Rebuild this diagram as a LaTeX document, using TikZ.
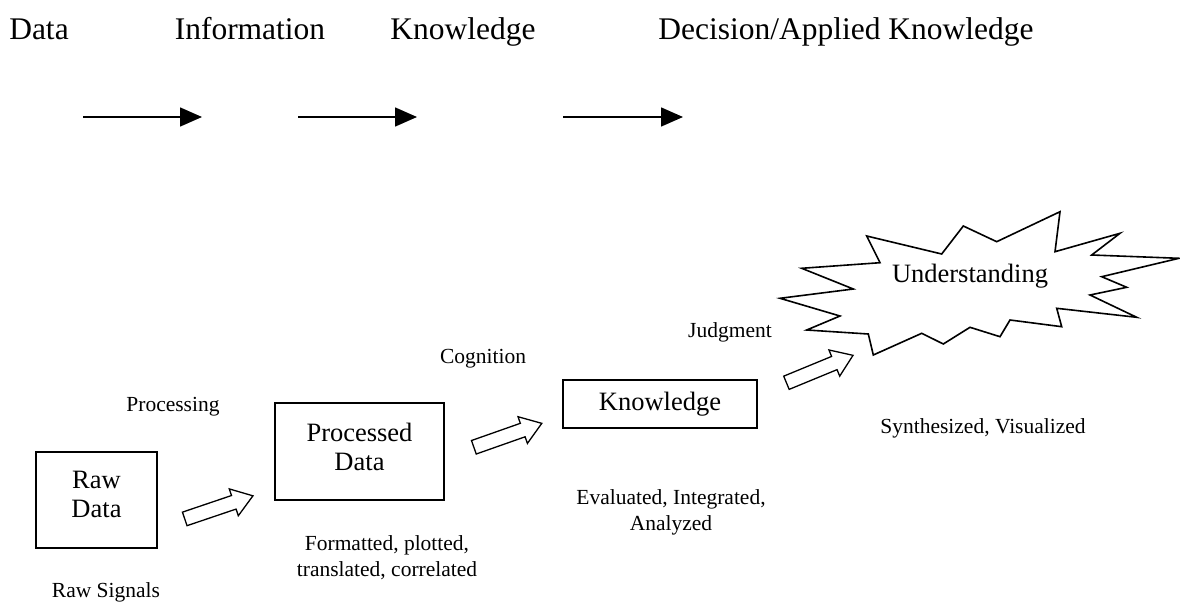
\documentclass[tikz,border=0pt]{standalone}
\usepackage{fontspec}
\setmainfont{Liberation Serif}
\usetikzlibrary{arrows.meta,shapes.arrows}
\begin{document}
\begin{tikzpicture}[x=1pt,y=-1pt,
  toptext/.style={font=\fontsize{31.5}{36}\selectfont, anchor=base, inner sep=0pt},
  lbl/.style={font=\fontsize{21.5}{26}\selectfont, inner sep=0pt, align=center},
  stagebox/.style={draw, line width=1.6pt, font=\fontsize{26.5}{29}\selectfont, align=center, inner sep=0pt},
  toparrow/.style={line width=1.6pt, -{Triangle[length=22pt,width=19pt]}},
  blockarrow/.style={single arrow, draw, line width=1.3pt, minimum height=72pt, inner sep=6.5pt,
    single arrow head extend=7pt, single arrow tip angle=70},
  burst/.style={draw, line width=1.6pt, line join=miter}
]
\fill[white] (0,0) rectangle (1180,607);
\useasboundingbox (0,0) rectangle (1180,607);

% top row
\node[toptext] (tdata) at (39,40) {Data};
\node[toptext] (tinfo) at (250,40) {Information};
\node[toptext] (tknow) at (463,40) {Knowledge};
\node[toptext] (tdec) at (846,40) {Decision/Applied Knowledge};

\coordinate (a1s) at (83,117); \coordinate (a1e) at (202,117);
\coordinate (a2s) at (298,117); \coordinate (a2e) at (417,117);
\coordinate (a3s) at (563,117); \coordinate (a3e) at (683,117);
\draw[toparrow] (a1s) -- (a1e);
\draw[toparrow] (a2s) -- (a2e);
\draw[toparrow] (a3s) -- (a3e);

% boxes
\node[stagebox, minimum width=121pt, minimum height=96pt] (raw) at (96.5,500) {Raw\\Data\rule[-12pt]{0pt}{12pt}};
\node[stagebox, minimum width=169pt, minimum height=97pt] (proc) at (359.5,451.5) {Processed\\Data\rule[-10pt]{0pt}{10pt}};
\node[stagebox, minimum width=194pt, minimum height=48pt] (know) at (660,404) {Knowledge};

% block arrows
\node[blockarrow, rotate=18.7] (h1) at (214,509) {};
\node[blockarrow, rotate=19.4] (h2) at (503,437) {};
\node[blockarrow, rotate=22.4] (h3) at (815,371) {};

% starburst
\draw[burst] (801.7,268.3) -- (880,262.7) -- (866.7,236) -- (941.7,254) -- (963.3,226)
  -- (996.7,241.7) -- (1060,211.7) -- (1055,251.7) -- (1120,233.3) -- (1091.7,255)
  -- (1179,258.3) -- (1101.7,276.7) -- (1126.7,287.3) -- (1090,295) -- (1136.7,317.3)
  -- (1056.7,308.3) -- (1061.7,326.7) -- (1010,320) -- (1000,336.7) -- (970,327.3)
  -- (943.3,344) -- (921.7,333.3) -- (873.3,355) -- (868.3,334) -- (806.7,330)
  -- (840,316) -- (780,298.3) -- (853.3,289) -- cycle;
\node[font=\fontsize{26.5}{29}\selectfont, anchor=base, inner sep=0pt] (und) at (970,282) {Understanding};

% labels
\node[lbl, anchor=base] (lproc) at (173,411) {Processing};
\node[lbl, anchor=base] (lsig) at (106,597) {Raw Signals};
\node[lbl, anchor=base] (lcog) at (483,363) {Cognition};
\node[lbl, anchor=base] (ljud) at (730,337) {Judgment};
\node[lbl] (lfmt) at (387,558) {Formatted, plotted,\\translated, correlated};
\node[lbl] (leval) at (671,512) {Evaluated, Integrated,\\Analyzed};
\node[lbl, anchor=base] (lsyn) at (983,433) {Synthesized, Visualized};
\end{tikzpicture}
\end{document}
